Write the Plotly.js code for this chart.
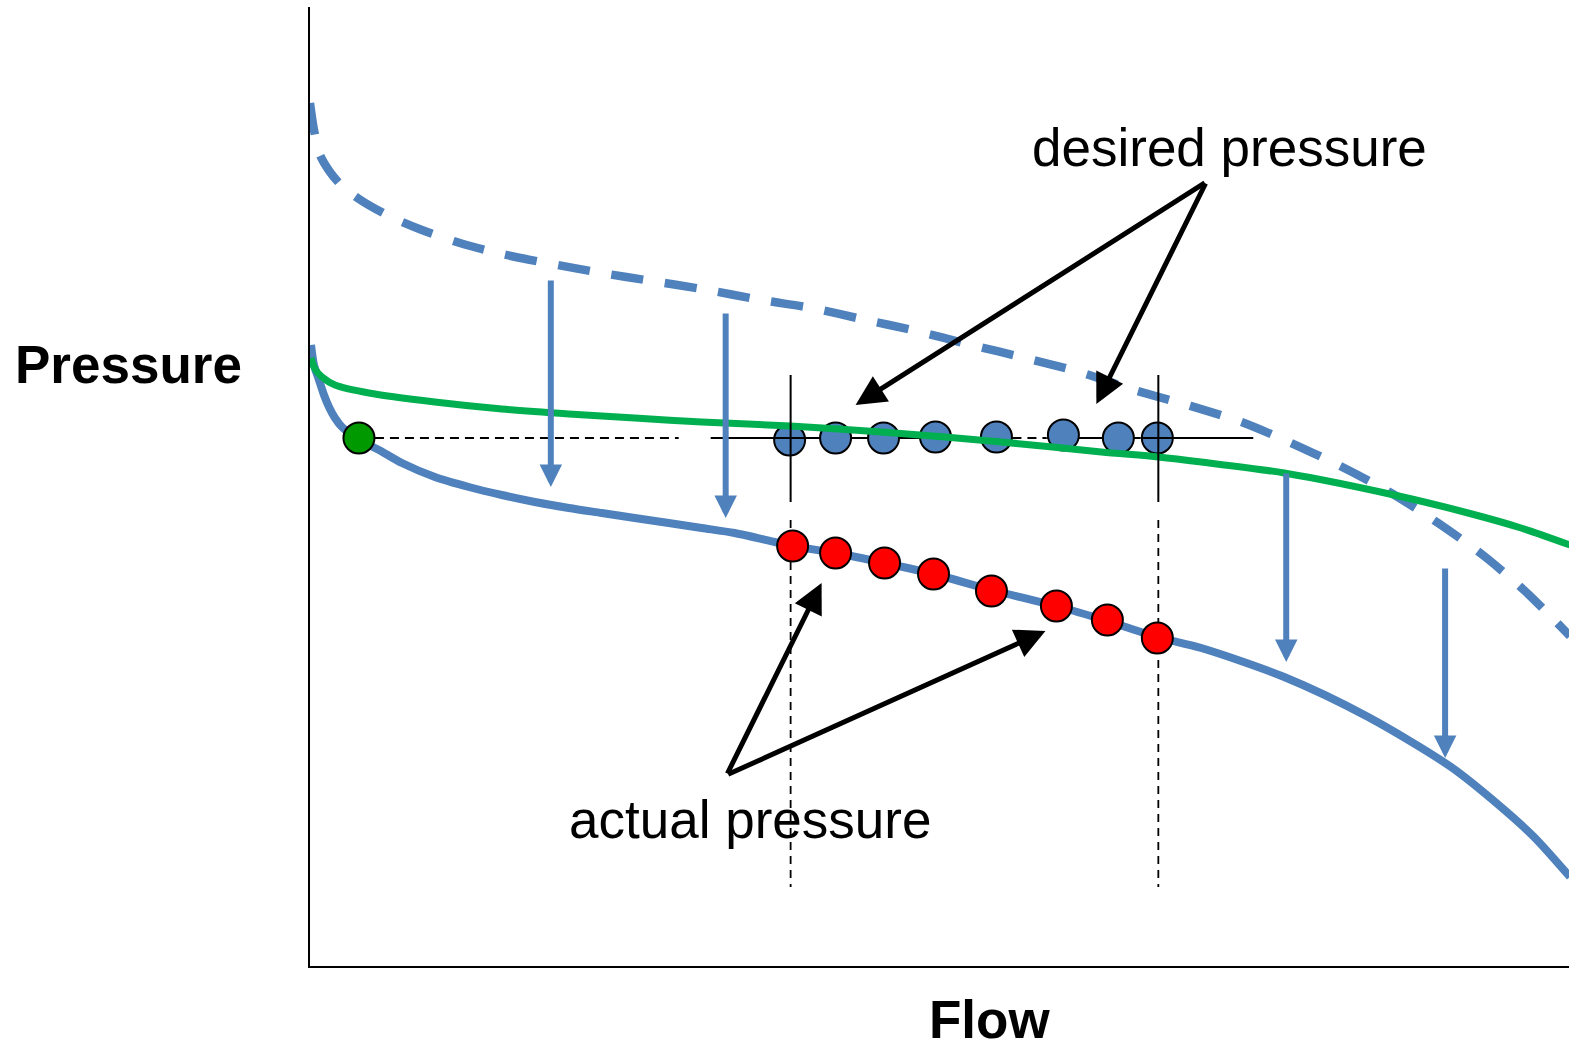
<!DOCTYPE html>
<html>
<head>
<meta charset="utf-8">
<script src="https://cdn.plot.ly/plotly-3.0.1.min.js"></script>
<style>html,body{margin:0;padding:0;background:#fff;}#chart{width:1569px;height:1049px;}</style>
</head>
<body>
<div id="chart"></div>
<script>
// ---- data (flow, pressure in arbitrary units) ----
var desiredCurveFlow = [-0.1,0.3,0.9,1.9,3.1,4.8,7.6,11.1,14.9,19.1,23.6,29.1,34.1,39.1,45.1,50.1,55.1,60.6,66.1,71.5,76.9,82.4,87.7,93.1,98.1,103.2,108.1,112.8,117.4,121.6,126];
var desiredCurvePressure = [86.3,83.6,81.1,79.4,78.0,76.7,75.1,73.6,72.3,71.2,70.3,69.3,68.5,67.7,66.6,65.8,64.7,63.5,62.1,60.8,59.4,57.6,56.1,54.4,52.3,49.9,47.3,44.3,41.0,37.4,33.0];

var actualCurveFlow = [0,0.3,0.8,1.3,1.8,2.4,3.1,4.1,4.8,6.8,9.1,12.4,15.8,19.1,22.4,25.8,29.1,32.4,35.8,39.1,42.4,46.4,48.2,52.5,57.4,62.3,68.1,74.6,79.7,84.7,89.1,97.4,105.8,114.1,119.1,122.4,126];
var actualCurvePressure = [62.1,60.1,58.6,57.1,55.9,54.8,53.9,53.1,52.6,51.6,50.3,48.9,47.9,47.1,46.4,45.8,45.3,44.8,44.3,43.8,43.3,42.4,42.0,41.3,40.3,39.2,37.6,36.0,34.5,32.9,31.8,28.9,24.9,19.9,15.9,12.9,8.9];

var systemCurveFlow = [0,0.4,1.1,2.4,5.8,12.4,19.1,25.8,32.4,39.1,48,57.1,69.1,79.1,84.8,89.1,97.4,108.4,115.8,121.1,126];
var systemCurvePressure = [60.8,59.7,58.9,58.1,57.3,56.4,55.7,55.2,54.8,54.4,54.0,53.4,52.4,51.4,50.9,50.4,49.3,47.1,45.3,43.8,42.1];

var desiredPointsFlow = [47.9,52.5,57.3,62.5,68.6,75.3,80.8,84.7];
var desiredPointsPressure = [52.6,52.8,52.8,52.9,52.9,53.1,52.8,52.8];

var actualPointsFlow = [48.2,52.5,57.4,62.3,68.1,74.6,79.7,84.7];
var actualPointsPressure = [42.0,41.3,40.3,39.2,37.5,36.0,34.6,32.8];

var startPointFlow = [4.8];
var startPointPressure = [52.8];

var setpointLevel = 52.8;
var refDashedFlow = [6.4,36.8,null,70.2,73.6];
var refSolidBelowFlow = [49.5,70.2,null,73.6,83.0];
var refSolidAboveFlow = [40.0,49.5,null,83.0,94.3];

var rangeFlowLines = [48.0,84.8];
var vSolidPressure = [59.1,46.4];
var vDashedPressure = [44.6,7.9];

var dropArrowFlow = [24.0,41.5,97.6,113.5];
var dropArrowFrom = [68.7,65.4,49.4,39.9];
var dropArrowTo = [47.9,44.8,30.4,20.8];

var desiredLabel = {text:'desired pressure', flow:91.9, pressure:81.9};
var desiredApex = [89.6,78.4];
var desiredTips = [[54.5,56.1],[78.6,56.2]];
var actualLabel = {text:'actual pressure', flow:43.9, pressure:14.7};
var actualApex = [41.6,19.1];
var actualTips = [[51.1,38.3],[73.5,33.5]];

var xTitle = 'Flow';
var yTitle = 'Pressure';

// ---- helpers ----
var BLUE = '#4F81BD';
function withNulls(xs, v){ return xs.map(function(x){ return x===null?null:v; }); }

var traces = [];
traces.push({x:desiredCurveFlow, y:desiredCurvePressure, mode:'lines', line:{color:BLUE,width:8.5,dash:'32px,22px',shape:'spline',smoothing:0.8}, hoverinfo:'skip'});
traces.push({x:actualCurveFlow, y:actualCurvePressure, mode:'lines', line:{color:BLUE,width:8,shape:'spline',smoothing:0.8}, hoverinfo:'skip'});
traces.push({x:refDashedFlow, y:withNulls(refDashedFlow,setpointLevel), mode:'lines', connectgaps:false, line:{color:'#000',width:1.8,dash:'9px,6px'}, hoverinfo:'skip'});
traces.push({x:refSolidBelowFlow, y:withNulls(refSolidBelowFlow,setpointLevel), mode:'lines', connectgaps:false, line:{color:'#000',width:2}, hoverinfo:'skip'});
traces.push({x:desiredPointsFlow, y:desiredPointsPressure, mode:'markers', marker:{size:31,color:BLUE,line:{color:'#000',width:2}}, hoverinfo:'skip'});
traces.push({x:systemCurveFlow, y:systemCurvePressure, mode:'lines', line:{color:'#00B050',width:7,shape:'spline',smoothing:0.8}, hoverinfo:'skip'});
traces.push({x:refSolidAboveFlow, y:withNulls(refSolidAboveFlow,setpointLevel), mode:'lines', connectgaps:false, line:{color:'#000',width:2}, hoverinfo:'skip'});
rangeFlowLines.forEach(function(f){
  traces.push({x:[f,f], y:vSolidPressure, mode:'lines', line:{color:'#000',width:2}, hoverinfo:'skip'});
  traces.push({x:[f,f], y:vDashedPressure, mode:'lines', line:{color:'#000',width:1.8,dash:'8px,6px'}, hoverinfo:'skip'});
});
traces.push({x:actualPointsFlow, y:actualPointsPressure, mode:'markers', marker:{size:31,color:'#FF0000',line:{color:'#000',width:2}}, hoverinfo:'skip'});
traces.push({x:startPointFlow, y:startPointPressure, mode:'markers', marker:{size:31,color:'#009900',line:{color:'#000',width:2}}, hoverinfo:'skip'});

var FONT = 'Liberation Sans, Arial, Helvetica, sans-serif';
var annotations = [];
for (var i=0;i<dropArrowFlow.length;i++){
  annotations.push({x:dropArrowFlow[i], y:dropArrowTo[i], ax:dropArrowFlow[i], ay:dropArrowFrom[i], xref:'x', yref:'y', axref:'x', ayref:'y', text:'', showarrow:true, arrowhead:2, arrowsize:0.75, arrowwidth:6, arrowcolor:BLUE, standoff:0, startstandoff:0});
}
desiredTips.concat(actualTips).forEach(function(t, k){
  var apex = k<2 ? desiredApex : actualApex;
  annotations.push({x:t[0], y:t[1], ax:apex[0], ay:apex[1], xref:'x', yref:'y', axref:'x', ayref:'y', text:'', showarrow:true, arrowhead:2, arrowsize:1.2, arrowwidth:5, arrowcolor:'#000', standoff:0, startstandoff:0});
});
[desiredLabel, actualLabel].forEach(function(l){
  annotations.push({x:l.flow, y:l.pressure, xref:'x', yref:'y', text:l.text, showarrow:false, xanchor:'center', yanchor:'middle', font:{family:FONT,size:53,color:'#000'}});
});
annotations.push({x:-0.1444, y:60.2, xref:'paper', yref:'y', text:'<b>'+yTitle+'</b>', showarrow:false, xanchor:'center', yanchor:'middle', font:{family:FONT,size:53,color:'#000'}});
annotations.push({x:67.9, y:-0.0553, xref:'x', yref:'paper', text:'<b>'+xTitle+'</b>', showarrow:false, xanchor:'center', yanchor:'middle', font:{family:FONT,size:53,color:'#000'}});

var layout = {
  width:1569, height:1049,
  margin:{l:310, r:0, t:7, b:83, pad:0},
  paper_bgcolor:'#fff', plot_bgcolor:'#fff',
  showlegend:false,
  xaxis:{range:[-0.1,125.9], showgrid:false, zeroline:false, showticklabels:false, ticks:'', showline:true, linecolor:'#000', linewidth:2, fixedrange:true},
  yaxis:{range:[0,95.9], showgrid:false, zeroline:false, showticklabels:false, ticks:'', showline:true, linecolor:'#000', linewidth:2, fixedrange:true},
  annotations:annotations
};
Plotly.newPlot('chart', traces, layout, {displayModeBar:false, staticPlot:true});
</script>
</body>
</html>
